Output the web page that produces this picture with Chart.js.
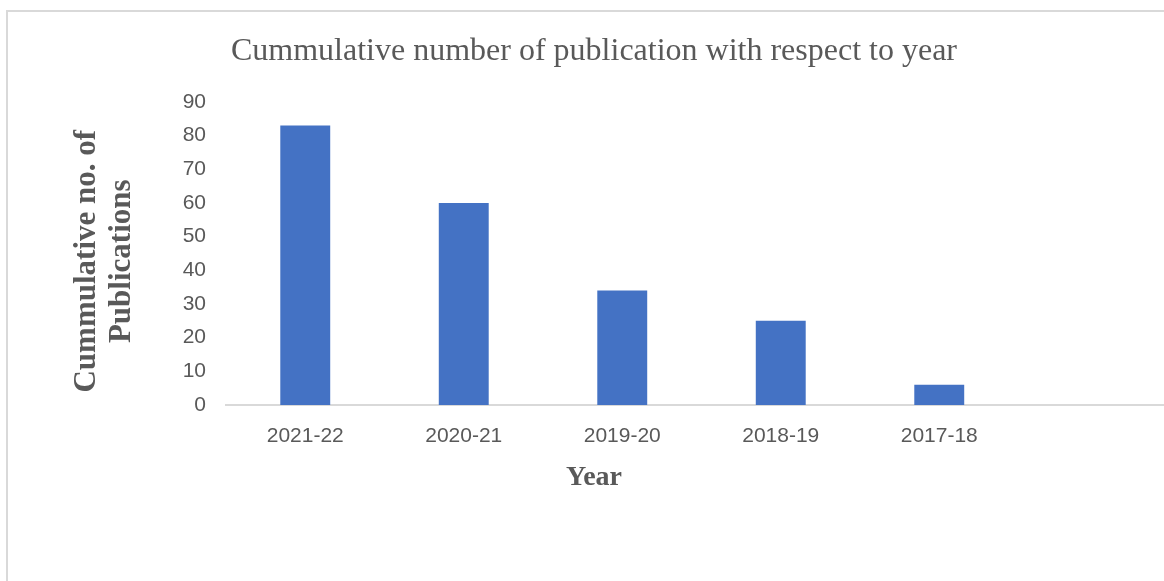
<!DOCTYPE html>
<html>
<head>
<meta charset="utf-8">
<script src="https://cdn.jsdelivr.net/npm/chart.js@4"></script>
<style>
  html, body { margin: 0; padding: 0; background: #fff; overflow: hidden; }
  #frame { position: absolute; left: 6px; top: 10px; width: 1300px; height: 700px; border-left: 2px solid #d9d9d9; border-top: 2px solid #d9d9d9; box-sizing: border-box; }
  #wrap { position: absolute; left: 0; top: 0; width: 1188px; height: 581px; }
</style>
</head>
<body>
<div id="frame"></div>
<div id="wrap"><canvas id="pubChart"></canvas></div>
<script>
// data
const years = ['2021-22', '2020-21', '2019-20', '2018-19', '2017-18', ''];
const cumulativePubs = [83, 60, 34, 25, 6, null];
const yTicks = [0, 10, 20, 30, 40, 50, 60, 70, 80, 90];

const textGrey = '#595959';

const ctx = document.getElementById('pubChart').getContext('2d');
const pubChart = new Chart(ctx, {
    type: 'bar',
    data: {
        labels: years,
        datasets: [{
            label: 'Cumulative publications',
            data: cumulativePubs,
            backgroundColor: '#4472C4',
            borderWidth: 0,
            categoryPercentage: 1,
            barPercentage: 0.315
        }]
    },
    options: {
        responsive: true,
        maintainAspectRatio: false,
        animation: false,
        layout: { padding: { left: 11, right: 11, top: 0, bottom: 86.7 } },
        plugins: {
            legend: { display: false },
            tooltip: { enabled: false },
            title: {
                display: true,
                text: 'Cummulative number of publication with respect to year',
                color: textGrey,
                font: { family: 'Liberation Serif', size: 32, weight: 'normal', lineHeight: 1.2 },
                padding: { top: 32, bottom: 31.6 }
            },
            // "Year" sits centred on the whole frame, not on the plot, so it goes here
            subtitle: {
                display: true,
                position: 'bottom',
                text: 'Year',
                color: textGrey,
                font: { family: 'Liberation Serif', size: 28, weight: 'bold', lineHeight: 1.2 },
                padding: { top: 5.7, bottom: 0 }
            }
        },
        scales: {
            x: {
                grid: { display: false, drawTicks: false },
                border: { display: true, color: '#d9d9d9', width: 2 },
                ticks: {
                    color: textGrey,
                    padding: 19,
                    font: { family: 'Liberation Sans', size: 21 }
                },
                afterFit: (s) => { s.height = 50; }
            },
            y: {
                min: 0,
                max: 90,
                afterBuildTicks: (s) => { s.ticks = yTicks.map(v => ({ value: v })); },
                grid: { display: false, drawTicks: false },
                border: { display: false },
                ticks: {
                    color: textGrey,
                    padding: 20,
                    font: { family: 'Liberation Sans', size: 21 }
                },
                title: {
                    display: true,
                    text: ['Cummulative no. of  ', 'Publications  '],
                    color: textGrey,
                    font: { family: 'Liberation Serif', size: 31, weight: 'bold', lineHeight: '35px' },
                    padding: { top: 58.5, bottom: 0 }
                },
                afterFit: (s) => { s.width = 215; }
            }
        }
    }
});
</script>
</body>
</html>
